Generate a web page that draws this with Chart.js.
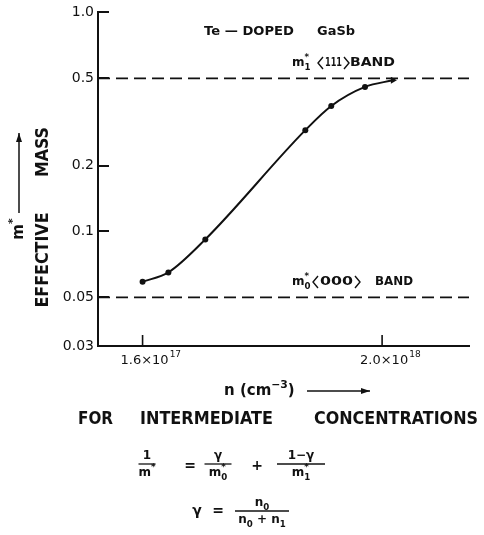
<!DOCTYPE html>
<html>
<head>
<meta charset="utf-8">
<script src="https://cdn.jsdelivr.net/npm/chart.js@4.4.1/dist/chart.umd.min.js"></script>
<style>
  html, body { margin: 0; padding: 0; background: #fff; }
  #wrap { width: 484px; height: 535px; }
</style>
</head>
<body>
<div id="wrap"><canvas id="grafico" width="484" height="535"></canvas></div>
<script>
// Datos (Te-doped GaSb)
const concentraciones = [1.6e17, 2.1e17, 3.1e17, 8.9e17, 1.17e18, 1.67e18, 2.24e18];
const masasEfectivas = [0.059, 0.065, 0.092, 0.29, 0.374, 0.457, 0.49];
const limitesBanda = [1e17, 5e18];
const masaBanda000 = 0.05;
const masaBanda111 = 0.5;
const ticksY = [0.03, 0.05, 0.1, 0.2, 0.5, 1.0];
const etiquetasY = ['0.03', '0.05', '0.1', '0.2', '0.5', '1.0'];
const ticksX = [1.6e17, 2.0e18];
const etiquetasX = [['1.6\u00d710', '17'], ['2.0\u00d710', '18']];

const FUENTE = '"DejaVu Sans", sans-serif';
const TINTA = '#111';

// Texto ajustado a un ancho dado (las letras del original son estrechas)
function textoAjustado(ctx, s, x, y, ancho, size, peso, align) {
  ctx.save();
  ctx.font = `${peso} ${size}px ${FUENTE}`;
  const w = ctx.measureText(s).width;
  const k = ancho ? ancho / w : 1;
  ctx.translate(x, y);
  ctx.scale(k, 1);
  ctx.textAlign = align || 'left';
  ctx.textBaseline = 'middle';
  ctx.fillText(s, 0, 0);
  ctx.restore();
}

// Texto con superindices / subindices
function textoRico(ctx, partes, x, y, size, align, peso) {
  peso = peso || 'bold';
  let cur = 0, inicio = 0;
  const items = [];
  partes.forEach(p => {
    const s = (p.sup || p.sub) ? size * 0.72 : size;
    ctx.font = `${peso} ${s}px ${FUENTE}`;
    const w = ctx.measureText(p.t).width;
    let px;
    if (p.stack) { px = inicio; cur = Math.max(cur, inicio + w); }
    else { px = cur; cur += w; }
    inicio = px;
    items.push({ t: p.t, x: px, s, dy: p.sup ? -size * 0.42 : p.sub ? size * 0.38 : 0 });
  });
  const x0 = align === 'center' ? x - cur / 2 : align === 'right' ? x - cur : x;
  ctx.textAlign = 'left';
  ctx.textBaseline = 'middle';
  items.forEach(it => {
    ctx.font = `${peso} ${it.s}px ${FUENTE}`;
    ctx.fillText(it.t, x0 + it.x, y + it.dy);
  });
  return cur;
}

function linea(ctx, x1, y1, x2, y2, w) {
  ctx.setLineDash([]);
  ctx.lineWidth = w || 1.5;
  ctx.beginPath();
  ctx.moveTo(x1, y1);
  ctx.lineTo(x2, y2);
  ctx.stroke();
}

function flecha(ctx, x1, y1, x2, y2) {
  linea(ctx, x1, y1, x2, y2, 1.5);
  const a = Math.atan2(y2 - y1, x2 - x1);
  ctx.beginPath();
  ctx.moveTo(x2, y2);
  ctx.lineTo(x2 - 9 * Math.cos(a) + 3 * Math.sin(a), y2 - 9 * Math.sin(a) - 3 * Math.cos(a));
  ctx.lineTo(x2 - 9 * Math.cos(a) - 3 * Math.sin(a), y2 - 9 * Math.sin(a) + 3 * Math.cos(a));
  ctx.closePath();
  ctx.fill();
}

// corchetes angulares dibujados a mano, como en el rotulado original
function banda(ctx, x, y, digitos, anchoDigitos) {
  const h = 6;
  ctx.lineWidth = 1.4;
  ctx.beginPath();
  ctx.moveTo(x + 5, y - h); ctx.lineTo(x, y); ctx.lineTo(x + 5, y + h);
  ctx.stroke();
  textoAjustado(ctx, digitos, x + 7, y, anchoDigitos, 12, 'bold');
  const xd = x + 9 + anchoDigitos;
  ctx.beginPath();
  ctx.moveTo(xd, y - h); ctx.lineTo(xd + 5, y); ctx.lineTo(xd, y + h);
  ctx.stroke();
}

function fraccion(ctx, cx, yBarra, ancho, num, den) {
  linea(ctx, cx - ancho / 2, yBarra, cx + ancho / 2, yBarra, 1.3);
  textoRico(ctx, num, cx, yBarra - 8, 12, 'center');
  textoRico(ctx, den, cx, yBarra + 9, 12, 'center');
}

const decoracion = {
  id: 'decoracion',
  afterDraw(chart) {
    const ctx = chart.ctx;
    const ya = chart.scales.y, xa = chart.scales.x;
    const area = chart.chartArea;
    ctx.save();
    ctx.strokeStyle = TINTA;
    ctx.fillStyle = TINTA;

    // marcas hacia dentro
    ticksY.slice(1).forEach(v => {
      const py = Math.round(ya.getPixelForValue(v));
      ctx.fillRect(area.left, py - 1, 11, 2);
    });
    ticksX.forEach((v, i) => {
      const px = xa.getPixelForValue(v);
      linea(ctx, px, area.bottom, px, area.bottom - 11, 1.6);
      ctx.font = `13px ${FUENTE}`;
      const w = ctx.measureText(etiquetasX[i][0]).width;
      const x0 = px + 2 - w / 2;
      ctx.textAlign = 'left';
      ctx.textBaseline = 'middle';
      ctx.fillText(etiquetasX[i][0], x0, area.bottom + 15);
      ctx.font = `9px ${FUENTE}`;
      ctx.fillText(etiquetasX[i][1], x0 + w + 1, area.bottom + 9);
    });

    // titulo eje Y
    ctx.save();
    ctx.translate(44, 260);
    ctx.rotate(-Math.PI / 2);
    textoAjustado(ctx, 'EFFECTIVE', 0, 0, 95, 17, 'bold', 'center');
    ctx.restore();
    ctx.save();
    ctx.translate(44, 152);
    ctx.rotate(-Math.PI / 2);
    textoAjustado(ctx, 'MASS', 0, 0, 50, 17, 'bold', 'center');
    ctx.restore();
    ctx.save();
    ctx.translate(19, 229);
    ctx.rotate(-Math.PI / 2);
    textoRico(ctx, [{ t: 'm' }, { t: '*', sup: true }], 0, 0, 15, 'center');
    ctx.restore();
    flecha(ctx, 19, 213, 19, 133);

    // anotaciones
    textoAjustado(ctx, 'Te \u2014 DOPED', 204, 32, 90, 12, 'bold');
    textoAjustado(ctx, 'GaSb', 317, 32, 38, 12, 'bold');
    textoRico(ctx, [{ t: 'm' }, { t: '*', sup: true }, { t: '1', sub: true, stack: true }], 292, 63, 12, 'left');
    banda(ctx, 318, 63, '111', 17);
    textoAjustado(ctx, 'BAND', 350, 63, 45, 12, 'bold');
    textoRico(ctx, [{ t: 'm' }, { t: '*', sup: true }, { t: '0', sub: true, stack: true }], 292, 282, 12, 'left');
    banda(ctx, 313, 282, '000', 33);
    textoAjustado(ctx, 'BAND', 375, 282, 38, 12, 'bold');

    // titulo eje X
    textoRico(ctx, [{ t: 'n (cm' }, { t: '\u22123', sup: true }, { t: ')' }], 224, 391, 15, 'left');
    flecha(ctx, 307, 391, 370, 391);

    // texto inferior
    textoAjustado(ctx, 'FOR', 78, 420, 35, 17, 'bold');
    textoAjustado(ctx, 'INTERMEDIATE', 140, 420, 133, 17, 'bold');
    textoAjustado(ctx, 'CONCENTRATIONS', 314, 420, 164, 17, 'bold');

    // formulas
    fraccion(ctx, 147, 464, 17, [{ t: '1' }], [{ t: 'm' }, { t: '*', sup: true }]);
    textoRico(ctx, [{ t: '=' }], 190, 466, 14, 'center');
    fraccion(ctx, 218, 464, 27, [{ t: '\u03b3' }], [{ t: 'm' }, { t: '*', sup: true }, { t: '0', sub: true, stack: true }]);
    textoRico(ctx, [{ t: '+' }], 257, 466, 14, 'center');
    fraccion(ctx, 301, 464, 48, [{ t: '1\u2212\u03b3' }], [{ t: 'm' }, { t: '*', sup: true }, { t: '1', sub: true, stack: true }]);
    textoRico(ctx, [{ t: '\u03b3' }], 197, 511, 14, 'center');
    textoRico(ctx, [{ t: '=' }], 218, 511, 14, 'center');
    fraccion(ctx, 262, 511, 54, [{ t: 'n' }, { t: '0', sub: true }], [{ t: 'n' }, { t: '0', sub: true }, { t: ' + n' }, { t: '1', sub: true }]);

    ctx.restore();
  }
};

const ctx = document.getElementById('grafico').getContext('2d');

new Chart(ctx, {
  type: 'line',
  data: {
    datasets: [
      {
        data: concentraciones.map((n, i) => ({ x: n, y: masasEfectivas[i] })),
        borderColor: TINTA,
        backgroundColor: TINTA,
        borderWidth: 2,
        cubicInterpolationMode: 'monotone',
        pointRadius: concentraciones.map((_, i) => i === concentraciones.length - 1 ? 4 : 3),
        pointStyle: concentraciones.map((_, i) => i === concentraciones.length - 1 ? 'triangle' : 'circle'),
        rotation: concentraciones.map((_, i) => i === concentraciones.length - 1 ? 90 : 0),
        pointBorderWidth: 0,
      },
      {
        data: limitesBanda.map(n => ({ x: n, y: masaBanda111 })),
        borderColor: TINTA,
        borderWidth: 1.6,
        borderDash: [12, 6],
        pointRadius: 0,
      },
      {
        data: limitesBanda.map(n => ({ x: n, y: masaBanda000 })),
        borderColor: TINTA,
        borderWidth: 1.6,
        borderDash: [12, 6],
        pointRadius: 0,
      },
    ],
  },
  options: {
    responsive: false,
    animation: false,
    devicePixelRatio: 1,
    layout: { padding: { top: 10, right: 15, left: 0, bottom: 0 } },
    plugins: { legend: { display: false }, tooltip: { enabled: false } },
    scales: {
      x: {
        type: 'logarithmic',
        min: limitesBanda[0],
        max: limitesBanda[1],
        afterBuildTicks: s => { s.ticks = ticksX.map(v => ({ value: v })); },
        afterFit: s => { s.height = 535 - 346; },
        ticks: { display: false },
        grid: { display: false, drawTicks: false },
        border: { display: true, color: TINTA, width: 2 },
      },
      y: {
        type: 'logarithmic',
        min: ticksY[0],
        max: ticksY[ticksY.length - 1],
        afterBuildTicks: s => { s.ticks = ticksY.map(v => ({ value: v })); },
        afterFit: s => { s.width = 98; },
        ticks: {
          callback: (v, i) => etiquetasY[i],
          color: TINTA,
          font: { family: FUENTE, size: 14 },
          padding: 4,
          autoSkip: false,
        },
        grid: { display: false, drawTicks: false },
        border: { display: true, color: TINTA, width: 2 },
      },
    },
  },
  plugins: [decoracion],
});
</script>
</body>
</html>
